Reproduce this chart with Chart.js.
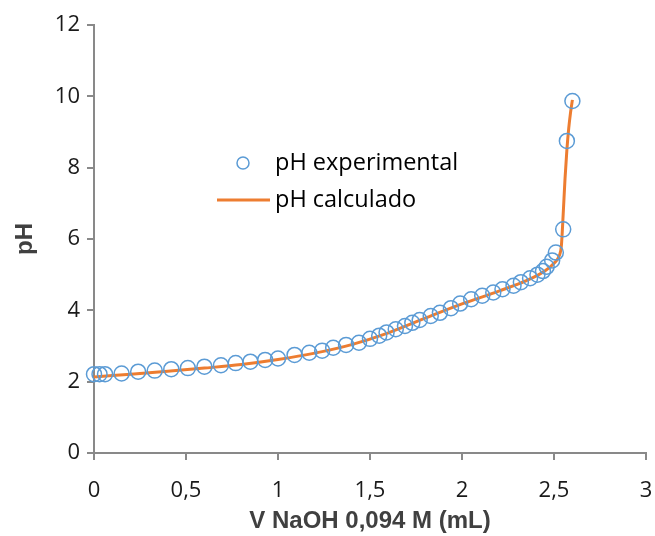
<!DOCTYPE html>
<html><head><meta charset="utf-8">
<script src="https://cdn.jsdelivr.net/npm/chart.js@4"></script>
<style>html,body{margin:0;padding:0;background:#fff}#wrap{width:655px;height:536px;position:relative}</style>
</head><body><div id="wrap"><canvas id="c" width="655" height="536"></canvas></div>
<script>
const seriesNames = ['pH experimental', 'pH calculado'];
const xTitle = 'V NaOH 0,094 M (mL)';
const yTitle = 'pH';
const xTicks = [0, 0.5, 1, 1.5, 2, 2.5, 3];
const yTicks = [0, 2, 4, 6, 8, 10, 12];

const volExp = [0, 0.03, 0.06, 0.15, 0.24, 0.33, 0.42, 0.51, 0.60, 0.69, 0.77, 0.85, 0.93, 1.00,
  1.09, 1.17, 1.24, 1.30, 1.37, 1.44, 1.50, 1.55, 1.59, 1.64, 1.69, 1.73, 1.77, 1.83, 1.88, 1.94,
  1.99, 2.05, 2.11, 2.17, 2.22, 2.28, 2.32, 2.37, 2.41, 2.44, 2.46, 2.49, 2.51, 2.55, 2.57, 2.60];
const phExp = [2.21, 2.21, 2.21, 2.23, 2.28, 2.31, 2.35, 2.38, 2.42, 2.46, 2.52, 2.56, 2.61, 2.65,
  2.75, 2.81, 2.87, 2.95, 3.03, 3.09, 3.20, 3.29, 3.38, 3.47, 3.56, 3.65, 3.73, 3.84, 3.93, 4.06,
  4.19, 4.31, 4.41, 4.50, 4.59, 4.69, 4.79, 4.90, 5.00, 5.10, 5.22, 5.40, 5.62, 6.27, 8.75, 9.87];

const volCalc = [0, 0.2, 0.4, 0.6, 0.8, 1.0, 1.2, 1.4, 1.6, 1.8, 2.0, 2.2, 2.35, 2.45, 2.5, 2.53,
  2.54, 2.55, 2.56, 2.57, 2.58, 2.59, 2.60];
const phCalc = [2.13, 2.21, 2.29, 2.38, 2.48, 2.62, 2.80, 3.04, 3.37, 3.78, 4.18, 4.54, 4.83, 5.10,
  5.32, 5.55, 5.80, 6.70, 7.70, 8.50, 9.10, 9.55, 9.90];

const AXIS = '#898989';
const TICKFONT = {family: '"Open Sans"', size: 22};
const TITLEFONT = {family: '"Liberation Sans"', size: 24, weight: 'bold', lineHeight: 1.2};

const legendPlugin = {
  id: 'inLegend',
  afterDatasetsDraw(chart) {
    const ctx = chart.ctx, a = chart.chartArea, ds = chart.data.datasets;
    ctx.save();
    ctx.font = '23.5px "Open Sans"';
    ctx.fillStyle = '#000';
    ctx.textBaseline = 'middle';
    ctx.textAlign = 'left';
    const mx = a.left + 149, my = a.top + 138;
    ctx.beginPath();
    ctx.arc(mx, my, 6, 0, Math.PI * 2);
    ctx.strokeStyle = ds[0].borderColor;
    ctx.lineWidth = 1.5;
    ctx.stroke();
    ctx.fillText(ds[0].label, a.left + 181, my);
    const ly = a.top + 175;
    ctx.beginPath();
    ctx.moveTo(a.left + 123, ly);
    ctx.lineTo(a.left + 176, ly);
    ctx.strokeStyle = ds[1].borderColor;
    ctx.lineWidth = 3;
    ctx.stroke();
    ctx.fillText(ds[1].label, a.left + 181, ly);
    ctx.restore();
  }
};

const fmt = v => String(v).replace('.', ',');

new Chart(document.getElementById('c'), {
  type: 'scatter',
  data: {
    datasets: [
      {
        label: seriesNames[0],
        data: volExp.map((v, i) => ({x: v, y: phExp[i]})),
        showLine: false,
        pointRadius: 7.5,
        pointHoverRadius: 7.5,
        borderWidth: 1.5,
        borderColor: '#5B9BD5',
        backgroundColor: 'rgba(0,0,0,0)',
        clip: false,
        order: 1
      },
      {
        label: seriesNames[1],
        data: volCalc.map((v, i) => ({x: v, y: phCalc[i]})),
        showLine: true,
        pointRadius: 0,
        borderWidth: 3,
        borderColor: '#ED7D31',
        backgroundColor: '#ED7D31',
        cubicInterpolationMode: 'monotone',
        clip: false,
        order: 2
      }
    ]
  },
  options: {
    responsive: false,
    animation: false,
    devicePixelRatio: 1,
    layout: {padding: {top: 25, right: 0, left: 0, bottom: 0}},
    plugins: {legend: {display: false}, tooltip: {enabled: false}},
    scales: {
      x: {
        type: 'linear', min: 0, max: 3,
        afterBuildTicks: s => { s.ticks = xTicks.map(v => ({value: v})); },
        afterFit: s => { s.height = 83; s.paddingRight = 9; s.paddingLeft = 0; },
        grid: {drawOnChartArea: false, drawTicks: true, tickLength: 7, color: AXIS, lineWidth: 2},
        border: {display: true, color: AXIS, width: 2},
        ticks: {font: TICKFONT, color: '#1a1a1a', padding: 18, maxRotation: 0, callback: v => fmt(v)},
        title: {display: true, text: xTitle, font: TITLEFONT, color: '#404040', padding: {top: 0, bottom: 0}}
      },
      y: {
        type: 'linear', min: 0, max: 12,
        afterBuildTicks: s => { s.ticks = yTicks.map(v => ({value: v})); },
        afterFit: s => { s.width = 94; },
        grid: {drawOnChartArea: false, drawTicks: true, tickLength: 7, color: AXIS, lineWidth: 2},
        border: {display: true, color: AXIS, width: 2},
        ticks: {font: TICKFONT, color: '#1a1a1a', padding: 7, callback: v => fmt(v)},
        title: {display: true, text: yTitle, font: TITLEFONT, color: '#404040', padding: {top: 11, bottom: 0}}
      }
    }
  },
  plugins: [legendPlugin]
});
</script></body></html>
